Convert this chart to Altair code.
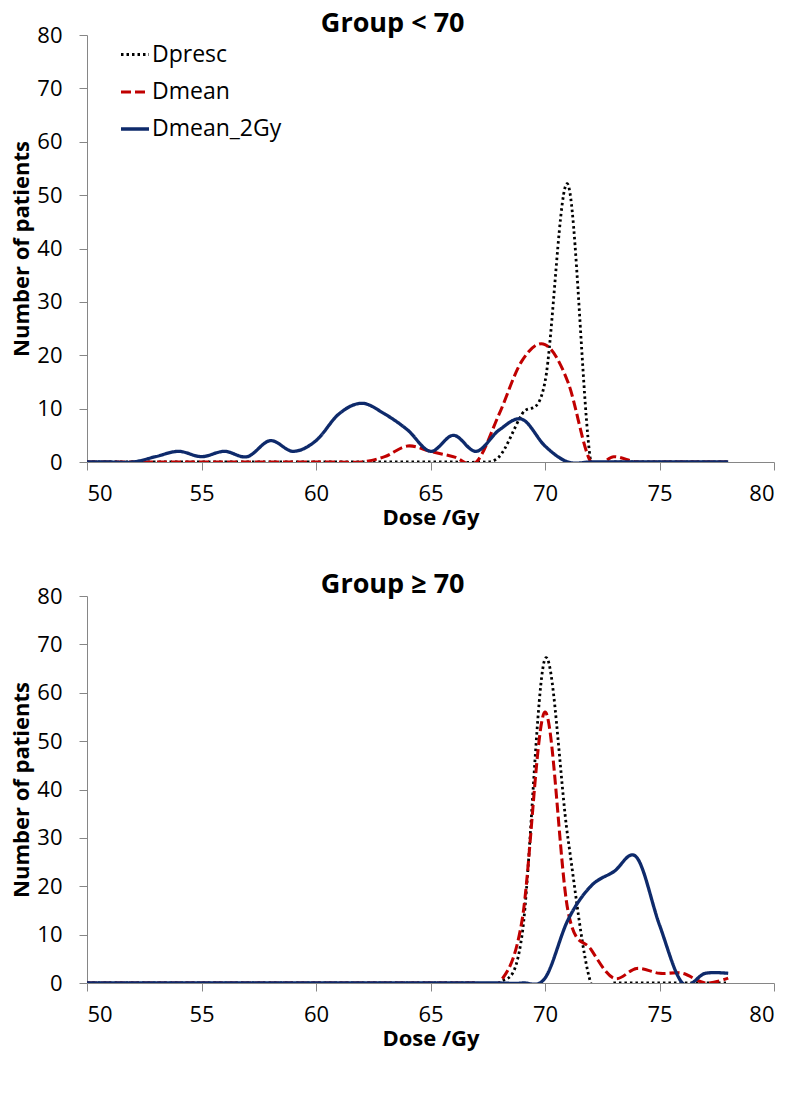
import altair as alt
import pandas as pd

# ---- data ----
dose = list(range(50, 79))
series = ["Dpresc", "Dmean", "Dmean_2Gy"]

# Group < 70
dpresc_lt = [0] * 18 + [1, 9, 15, 52, 0] + [0] * 6
dmean_lt = [0] * 13 + [1, 3, 2, 1, 0, 9, 19, 22, 15, 0, 1] + [0] * 5
dmean2_lt = [0, 0, 0, 1, 2, 1, 2, 1, 4, 2, 4, 9, 11, 9, 6, 2, 5, 2, 6, 8, 3] + [0] * 8

# Group >= 70
dpresc_ge = [0] * 19 + [10, 67, 30, 0] + [0] * 6
dmean_ge = [0] * 19 + [13, 56, 15, 7, 1, 3, 2, 2, 0, 1]
dmean2_ge = [0] * 20 + [1, 13, 20, 23, 26, 12, 0, 2, 2]

titles = ["Group < 70", "Group \u2265 70"]
x_ticks = list(range(50, 81, 5))
y_ticks = list(range(0, 81, 10))

colors = ["#000000", "#C00000", "#0E2A6B"]
dashes = [[2.5, 3], [10, 4], [1, 0]]
widths = [2.8, 3.3, 3.9]

FONT = "Open Sans"


def long_df(vals):
    rows = []
    for name, v in zip(series, vals):
        for d, n in zip(dose, v):
            rows.append({"dose": d, "patients": n, "series": name})
    return pd.DataFrame(rows)


def panel(title, vals, height, show_legend):
    df = long_df(vals)
    if show_legend:
        leg = alt.Legend(
            title=None, orient="none", legendX=32, legendY=4,
            symbolType="stroke", symbolSize=784, labelFontSize=23,
            labelFont=FONT, labelColor="#000000", rowPadding=9,
            labelOffset=1, padding=0,
        )
    else:
        leg = None
    return alt.Chart(
        df,
        title=alt.TitleParams(
            title, anchor="middle", frame="bounds", fontSize=27,
            font=FONT, fontWeight="bold", color="#000000", offset=-14,
        ),
    ).mark_line(interpolate="cardinal", clip=True).encode(
        x=alt.X("dose:Q", scale=alt.Scale(domain=[50, 80], nice=False),
                axis=alt.Axis(values=x_ticks, title="Dose /Gy", titlePadding=3,
                              labelPadding=13)),
        y=alt.Y("patients:Q", scale=alt.Scale(domain=[0, 80], nice=False),
                axis=alt.Axis(values=y_ticks, title="Number of patients",
                              titlePadding=3, labelPadding=17)),
        color=alt.Color("series:N", scale=alt.Scale(domain=series, range=colors), legend=leg),
        strokeDash=alt.StrokeDash("series:N", scale=alt.Scale(domain=series, range=dashes), legend=leg),
        strokeWidth=alt.StrokeWidth("series:N", scale=alt.Scale(domain=series, range=widths), legend=leg),
    ).properties(width=687, height=height)


top = panel(titles[0], [dpresc_lt, dmean_lt, dmean2_lt], 427, True)
bottom = panel(titles[1], [dpresc_ge, dmean_ge, dmean2_ge], 387, False)

chart = alt.vconcat(top, bottom, spacing=43).resolve_scale(
    color="independent", strokeDash="independent", strokeWidth="independent"
).resolve_legend(
    color="independent", strokeDash="independent", strokeWidth="independent"
).properties(
    padding={"left": 2, "top": 2, "right": 0, "bottom": 6}
).configure_view(stroke=None).configure_axis(
    grid=False, domainColor="#868686", tickColor="#868686", tickSize=8,
    labelFont=FONT, labelFontSize=22, labelColor="#000000",
    titleFont=FONT, titleFontSize=22, titleFontWeight="bold", titleColor="#000000",
)

chart.save("out.html", embed_options={"renderer": "svg", "actions": False})
